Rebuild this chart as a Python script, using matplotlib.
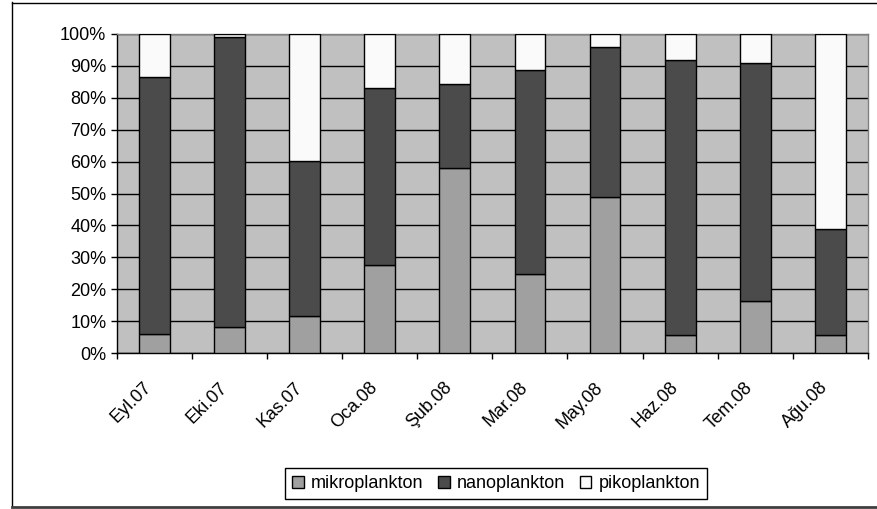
import matplotlib
matplotlib.use("Agg")
import matplotlib.pyplot as plt
import matplotlib.transforms as mtransforms
import numpy as np
from matplotlib.patches import Rectangle
from matplotlib.lines import Line2D
from matplotlib.ticker import FixedLocator, FuncFormatter

plt.rcParams['font.family'] = ['Liberation Sans', 'DejaVu Sans']

categories = ['Eyl.07', 'Eki.07', 'Kas.07', 'Oca.08', 'Şub.08',
              'Mar.08', 'May.08', 'Haz.08', 'Tem.08', 'Ağu.08']
mikroplankton = [6.1, 8.1, 11.6, 27.7, 58.1, 24.9, 49.0, 5.6, 16.2, 5.6]
nanoplankton = [80.4, 91.1, 48.5, 55.5, 26.1, 63.8, 46.8, 86.2, 74.8, 33.3]
pikoplankton = [13.5, 0.8, 39.9, 16.8, 15.8, 11.3, 4.2, 8.2, 9.0, 61.1]

series = [('mikroplankton', mikroplankton, '#a0a0a0'),
          ('nanoplankton', nanoplankton, '#4b4b4b'),
          ('pikoplankton', pikoplankton, '#fafafa')]

W, H = 878, 509
FS = 13
fig = plt.figure(figsize=(W / 100, H / 100), dpi=100)
fig.patch.set_facecolor('white')

ax = fig.add_axes([116.7 / W, 1 - 353 / H, (868 - 116.7) / W, (353 - 34) / H])
ax.set_facecolor('#c0c0c0')

x = np.arange(len(categories))
totals = np.sum([s[1] for s in series], axis=0)
bottom = np.zeros(len(categories))
for name, vals, col in series:
    pct = np.array(vals) / totals * 100
    ax.bar(x, pct, bottom=bottom, width=0.41, color=col, edgecolor='black',
           linewidth=1.0, label=name, zorder=3)
    bottom += pct

ax.set_xlim(-0.5, len(categories) - 0.5)
ax.set_ylim(0, 100)
ax.set_yticks(np.arange(0, 101, 10))
ax.yaxis.set_major_formatter(FuncFormatter(lambda v, p: f'{int(v)}%'))
ax.yaxis.grid(True, color='black', linewidth=1.0, zorder=1)
ax.set_axisbelow(True)

# category boundaries carry the tick marks, centres carry the labels
ax.xaxis.set_major_locator(FixedLocator(np.arange(-0.5, len(categories), 1.0)))
ax.xaxis.set_major_formatter(FuncFormatter(lambda v, p: ''))
ax.xaxis.set_minor_locator(FixedLocator(x))
ax.set_xticklabels(categories, minor=True)
ax.tick_params(axis='x', which='major', direction='out', length=4.5, width=1, color='black')
ax.tick_params(axis='x', which='minor', length=0, pad=23, labelsize=FS)
ax.tick_params(axis='y', direction='out', length=4.5, width=1, color='black',
               labelsize=FS, pad=3)
shift = mtransforms.ScaledTranslation(-5 / 100, 0, fig.dpi_scale_trans)
for lab in ax.get_xticklabels(minor=True):
    lab.set_rotation(45)
    lab.set_rotation_mode('anchor')
    lab.set_ha('right')
    lab.set_va('center')
    lab.set_transform(lab.get_transform() + shift)

for side in ('left', 'bottom'):
    ax.spines[side].set_color('black')
    ax.spines[side].set_linewidth(1.0)
for side in ('top', 'right'):
    ax.spines[side].set_color('#808080')
    ax.spines[side].set_linewidth(1.0)

handles = [Rectangle((0, 0), 1, 1, facecolor=c, edgecolor='black', linewidth=1.0)
           for _, _, c in series]
leg = fig.legend(handles, [s[0] for s in series], loc='center',
                 bbox_to_anchor=(496 / W, 1 - 483.5 / H), ncol=3, fontsize=FS,
                 frameon=True, fancybox=False, framealpha=1, edgecolor='black',
                 handlelength=0.65, handleheight=0.65, handletextpad=0.4,
                 columnspacing=0.8, borderpad=0.4, borderaxespad=0)
leg.get_frame().set_linewidth(1.0)

# chart-area border
fig.add_artist(Line2D([12 / W, 12 / W], [1 - 2 / H, 1 - 506 / H], color='black',
                      linewidth=1.0, transform=fig.transFigure))
fig.add_artist(Line2D([12 / W, 1], [1 - 2.5 / H, 1 - 2.5 / H], color='black',
                      linewidth=1.0, transform=fig.transFigure))
fig.add_artist(Line2D([12 / W, 1], [1 - 506.5 / H, 1 - 506.5 / H], color='#404040',
                      linewidth=2.0, transform=fig.transFigure))

fig.savefig('out.png', dpi=100)
